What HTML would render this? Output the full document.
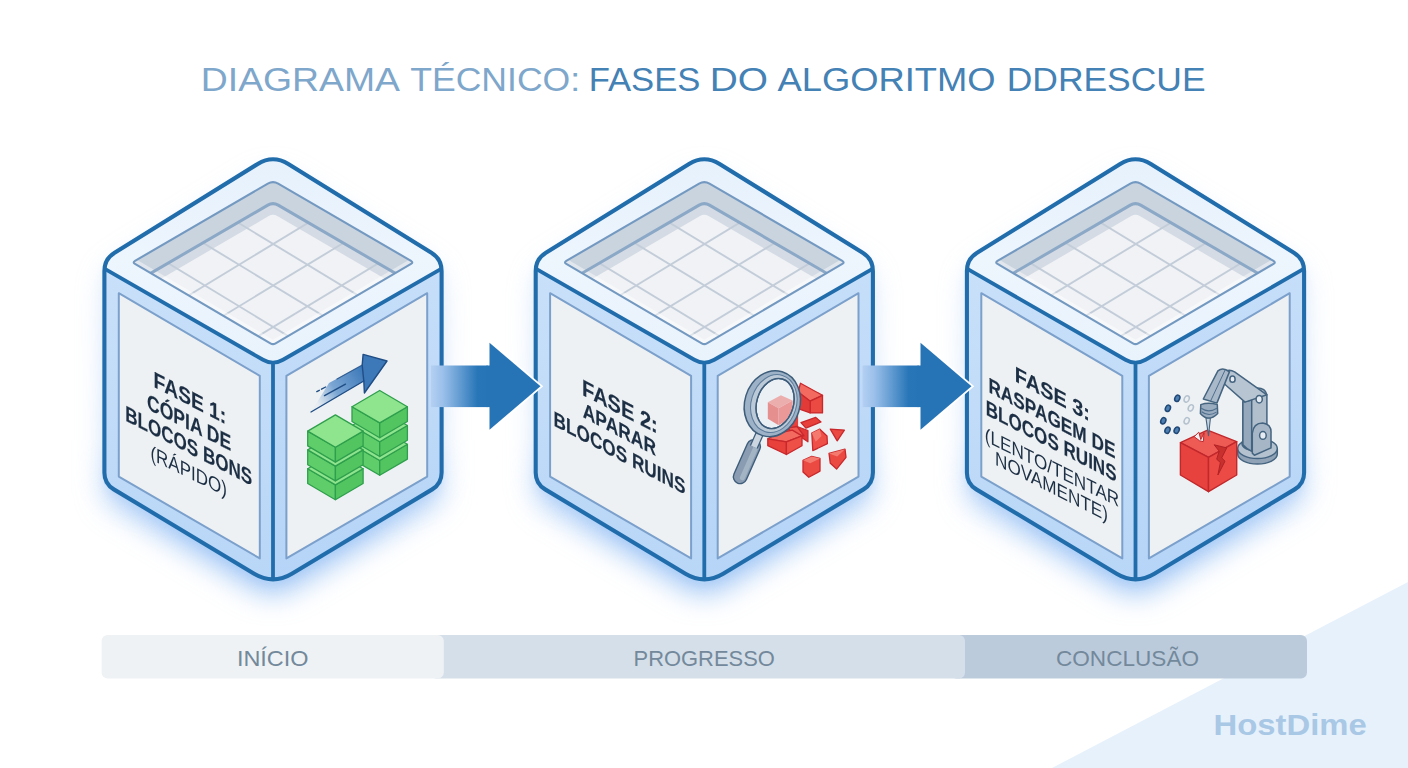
<!DOCTYPE html>
<html><head><meta charset="utf-8"><title>Fases do algoritmo ddrescue</title>
<style>html,body{margin:0;padding:0;background:#fff;}svg{display:block}</style>
</head><body>
<svg width="1408" height="768" viewBox="0 0 1408 768" font-family="'Liberation Sans', sans-serif">

<defs>
  <filter id="glow" x="-30%" y="-30%" width="160%" height="160%"><feGaussianBlur stdDeviation="14"/></filter>
  <filter id="glow2" x="-30%" y="-30%" width="160%" height="160%"><feGaussianBlur stdDeviation="5"/></filter>
  <linearGradient id="lface" x1="0" y1="0" x2="0" y2="1">
    <stop offset="0" stop-color="#c9e0f9"/><stop offset="1" stop-color="#b8d6f7"/>
  </linearGradient>
  <linearGradient id="rface" x1="0" y1="0" x2="0" y2="1">
    <stop offset="0" stop-color="#c6def9"/><stop offset="1" stop-color="#b5d4f7"/>
  </linearGradient>
  <linearGradient id="shaft" x1="0" y1="0" x2="1" y2="0">
    <stop offset="0" stop-color="#b4d0f2"/><stop offset="0.2" stop-color="#9bc0ea"/><stop offset="0.78" stop-color="#2876b8"/><stop offset="1" stop-color="#2674b6"/>
  </linearGradient>
  <linearGradient id="gmg" gradientUnits="userSpaceOnUse" x1="0" y1="140" x2="0" y2="540">
    <stop offset="0" stop-color="#fff" stop-opacity="0.3"/><stop offset="0.75" stop-color="#fff" stop-opacity="0.5"/><stop offset="0.88" stop-color="#fff" stop-opacity="0.85"/><stop offset="1" stop-color="#fff" stop-opacity="1"/>
  </linearGradient>
  <mask id="glowmask" maskUnits="userSpaceOnUse" x="-260" y="90" width="520" height="600"><rect x="-260" y="90" width="520" height="600" fill="url(#gmg)"/></mask>
  <linearGradient id="rimg" gradientUnits="userSpaceOnUse" x1="0" y1="155" x2="0" y2="365">
    <stop offset="0" stop-color="#e6f1fc"/><stop offset="0.5" stop-color="#edf5fd"/><stop offset="1" stop-color="#e9f3fc"/>
  </linearGradient>
  <clipPath id="openclip"><path d="M-5.19 183.62 Q0.00 180.60 5.19 183.62 L138.01 260.89 Q140.60 262.40 138.01 263.92 L2.59 343.38 Q0.00 344.90 -2.59 343.38 L-138.01 263.92 Q-140.60 262.40 -138.01 260.89 Z"/></clipPath>
  <clipPath id="floorclip"><path d="M-5.19 205.12 Q0.00 202.10 5.19 205.12 L138.01 282.39 Q140.60 283.90 138.01 285.42 L4.31 363.87 Q0.00 366.40 -4.31 363.87 L-138.01 285.42 Q-140.60 283.90 -138.01 282.39 Z"/></clipPath>
  <g id="cube">
    <g mask="url(#glowmask)">
    <path d="M-15.30 163.98 Q0.00 154.50 15.30 163.98 L158.40 252.68 Q168.60 259.00 168.60 271.00 L168.60 472.70 Q168.60 483.70 159.17 489.37 L18.86 573.67 Q0.00 585.00 -18.86 573.67 L-159.17 489.37 Q-168.60 483.70 -168.60 472.70 L-168.60 271.00 Q-168.60 259.00 -158.40 252.68 Z" fill="#a0c6f5" filter="url(#glow)" opacity="1" transform="translate(0,15)"/>
    <path d="M-15.30 163.98 Q0.00 154.50 15.30 163.98 L158.40 252.68 Q168.60 259.00 168.60 271.00 L168.60 472.70 Q168.60 483.70 159.17 489.37 L18.86 573.67 Q0.00 585.00 -18.86 573.67 L-159.17 489.37 Q-168.60 483.70 -168.60 472.70 L-168.60 271.00 Q-168.60 259.00 -158.40 252.68 Z" fill="#a9ccf6" filter="url(#glow2)" opacity="0.55" transform="translate(0,4)"/>
    </g>
    <path d="M-15.30 163.98 Q0.00 154.50 15.30 163.98 L158.40 252.68 Q168.60 259.00 168.60 271.00 L168.60 472.70 Q168.60 483.70 159.17 489.37 L18.86 573.67 Q0.00 585.00 -18.86 573.67 L-159.17 489.37 Q-168.60 483.70 -168.60 472.70 L-168.60 271.00 Q-168.60 259.00 -158.40 252.68 Z" fill="#c2dcf8"/>
    <path d="M-168.6 262 L0 362 L0 585 L-168.6 484 Z" fill="url(#lface)"/>
    <path d="M168.6 262 L0 362 L0 585 L168.6 484 Z" fill="url(#rface)"/>
    <path d="M-15.30 163.98 Q0.00 154.50 15.30 163.98 L160.10 253.73 Q168.60 259.00 168.60 263.85 L168.60 263.85 Q168.60 268.70 159.93 273.68 L13.88 357.53 Q0.00 365.50 -13.88 357.53 L-159.93 273.68 Q-168.60 268.70 -168.60 263.85 L-168.60 263.85 Q-168.60 259.00 -160.10 253.73 Z" fill="url(#rimg)"/>
    <!-- recess -->
    <path d="M-5.19 183.62 Q0.00 180.60 5.19 183.62 L138.01 260.89 Q140.60 262.40 138.01 263.92 L2.59 343.38 Q0.00 344.90 -2.59 343.38 L-138.01 263.92 Q-140.60 262.40 -138.01 260.89 Z" fill="#c9d4df"/>
    <g clip-path="url(#openclip)">
      <path d="M-5.19 205.12 Q0.00 202.10 5.19 205.12 L138.01 282.39 Q140.60 283.90 138.01 285.42 L4.31 363.87 Q0.00 366.40 -4.31 363.87 L-138.01 285.42 Q-140.60 283.90 -138.01 282.39 Z" fill="#d4dbe4"/>
      <path d="M-4.32 216.11 Q0.00 213.60 4.32 216.11 L138.01 293.89 Q140.60 295.40 138.01 296.92 L4.31 375.37 Q0.00 377.90 -4.31 375.37 L-138.01 296.92 Q-140.60 295.40 -138.01 293.89 Z" fill="#f0f2f5"/>
      <g clip-path="url(#floorclip)"><path d="M-68.10 202.50 L137.10 327.00 M68.70 202.50 L-136.50 327.00 M-102.30 223.25 L102.90 347.75 M102.90 223.25 L-102.30 347.75 M-136.50 244.00 L68.70 368.50 M137.10 244.00 L-68.10 368.50" stroke="#c3cdd9" stroke-width="1.9" fill="none"/></g>
      <path d="M-140.6 262.4 L0 344.9 L140.6 262.4" stroke="#ffffff" stroke-opacity="0.45" stroke-width="9" fill="none" stroke-linejoin="round"/>
      <path d="M-140.59 283.90 Q-140.60 283.90 -140.59 283.89 L-5.19 205.12 Q0.00 202.10 5.19 205.12 L140.59 283.89 Q140.60 283.90 140.59 283.90" stroke="#8ca8c7" stroke-width="3" fill="none"/>
    </g>
    <path d="M-5.19 183.62 Q0.00 180.60 5.19 183.62 L138.01 260.89 Q140.60 262.40 138.01 263.92 L2.59 343.38 Q0.00 344.90 -2.59 343.38 L-138.01 263.92 Q-140.60 262.40 -138.01 260.89 Z" fill="none" stroke="#7499c1" stroke-width="2.1"/>
    <!-- panels -->
    <path d="M-154.2 293.2 L-13.2 375.8 L-13.2 558.4 L-154.2 476.6 Z" fill="#eef1f3" stroke="#7ba0cb" stroke-width="2" stroke-linejoin="round"/>
    <path d="M154.2 293.2 L13.4 375.8 L13.4 558.4 L154.2 476.6 Z" fill="#eef1f3" stroke="#7ba0cb" stroke-width="2" stroke-linejoin="round"/>
    <!-- edges -->
    <path d="M-168.6 268.7 L-10 359.75 Q0 365.5 10 359.75 L168.6 268.7" fill="none" stroke="#216dac" stroke-width="3.8"/>
    <path d="M0 362.5 L0 580.5" fill="none" stroke="#216dac" stroke-width="3.8"/>
    <path d="M-15.30 163.98 Q0.00 154.50 15.30 163.98 L158.40 252.68 Q168.60 259.00 168.60 271.00 L168.60 472.70 Q168.60 483.70 159.17 489.37 L18.86 573.67 Q0.00 585.00 -18.86 573.67 L-159.17 489.37 Q-168.60 483.70 -168.60 472.70 L-168.60 271.00 Q-168.60 259.00 -158.40 252.68 Z" fill="none" stroke="#216dac" stroke-width="4.1" stroke-linejoin="round"/>
  </g>
</defs>

<rect width="1408" height="768" fill="#ffffff"/>
<path d="M1052 768 L1408 582 L1408 768 Z" fill="#e7f1fb"/>
<text x="200.8" y="90.6" font-size="32.6" fill="#7ea7cb" textLength="199.2" lengthAdjust="spacingAndGlyphs">DIAGRAMA</text><text x="410.2" y="90.6" font-size="32.6" fill="#7ea7cb" textLength="170.0" lengthAdjust="spacingAndGlyphs">TÉCNICO:</text><text x="588.7" y="90.6" font-size="32.6" fill="#4481b4" textLength="111.7" lengthAdjust="spacingAndGlyphs">FASES</text><text x="709.8" y="90.6" font-size="32.6" fill="#4481b4" textLength="58.3" lengthAdjust="spacingAndGlyphs">DO</text><text x="777.6" y="90.6" font-size="32.6" fill="#4481b4" textLength="218.0" lengthAdjust="spacingAndGlyphs">ALGORITMO</text><text x="1006.7" y="90.6" font-size="32.6" fill="#4481b4" textLength="198.9" lengthAdjust="spacingAndGlyphs">DDRESCUE</text>
<use href="#cube" x="273.0"/>
<use href="#cube" x="704.3"/>
<use href="#cube" x="1135.5"/>
<rect x="431" y="365.5" width="59.5" height="41.6" fill="url(#shaft)"/><path d="M489.5 342.8 L540.5 386.3 L489.5 429.8 Z" fill="#2674b6" stroke="#ffffff" stroke-width="3.6" stroke-linejoin="miter" paint-order="stroke"/><rect x="486.5" y="365.5" width="6" height="41.6" fill="#2674b6"/>
<rect x="862.5" y="365.5" width="59.0" height="41.6" fill="url(#shaft)"/><path d="M920.5 342.8 L971.5 386.3 L920.5 429.8 Z" fill="#2674b6" stroke="#ffffff" stroke-width="3.6" stroke-linejoin="miter" paint-order="stroke"/><rect x="917.5" y="365.5" width="6" height="41.6" fill="#2674b6"/>
<g opacity="0.999"><text transform="matrix(0.866 0.4497 0 1 153.6 386.8)" x="0" y="0" font-size="22.4" font-weight="bold" fill="#1c2f45" stroke="#1c2f45" stroke-width="0.15" textLength="83.8" lengthAdjust="spacingAndGlyphs">FASE 1:</text>
<text transform="matrix(0.866 0.4351 0 1 147.0 408.8)" x="0" y="0" font-size="22.1" font-weight="bold" fill="#1c2f45" stroke="#1c2f45" stroke-width="0.15" textLength="97.2" lengthAdjust="spacingAndGlyphs">CÓPIA DE</text>
<text transform="matrix(0.866 0.4453 0 1 125.2 420.5)" x="0" y="0" font-size="22.1" font-weight="bold" fill="#1c2f45" stroke="#1c2f45" stroke-width="0.15" textLength="146.7" lengthAdjust="spacingAndGlyphs">BLOCOS BONS</text>
<text transform="matrix(0.866 0.4273 0 1 150.4 459.2)" x="0" y="0" font-size="20.2" font-weight="normal" fill="#1c2f45"  textLength="88.2" lengthAdjust="spacingAndGlyphs">(RÁPIDO)</text>
<text transform="matrix(0.866 0.4490 0 1 582.0 394.7)" x="0" y="0" font-size="22.9" font-weight="bold" fill="#1c2f45" stroke="#1c2f45" stroke-width="0.15" textLength="87.5" lengthAdjust="spacingAndGlyphs">FASE 2:</text>
<text transform="matrix(0.866 0.4649 0 1 582.8 417.0)" x="0" y="0" font-size="21.2" font-weight="bold" fill="#1c2f45" stroke="#1c2f45" stroke-width="0.15" textLength="84.5" lengthAdjust="spacingAndGlyphs">APARAR</text>
<text transform="matrix(0.866 0.4540 0 1 553.6 425.6)" x="0" y="0" font-size="21.2" font-weight="bold" fill="#1c2f45" stroke="#1c2f45" stroke-width="0.15" textLength="152.2" lengthAdjust="spacingAndGlyphs">BLOCOS RUINS</text>
<text transform="matrix(0.866 0.4676 0 1 1014.8 381.0)" x="0" y="0" font-size="21.8" font-weight="bold" fill="#1c2f45" stroke="#1c2f45" stroke-width="0.15" textLength="86.6" lengthAdjust="spacingAndGlyphs">FASE 3:</text>
<text transform="matrix(0.866 0.4548 0 1 988.4 392.1)" x="0" y="0" font-size="21.2" font-weight="bold" fill="#1c2f45" stroke="#1c2f45" stroke-width="0.15" textLength="146.7" lengthAdjust="spacingAndGlyphs">RASPAGEM DE</text>
<text transform="matrix(0.866 0.4482 0 1 985.8 414.4)" x="0" y="0" font-size="21.6" font-weight="bold" fill="#1c2f45" stroke="#1c2f45" stroke-width="0.15" textLength="151.0" lengthAdjust="spacingAndGlyphs">BLOCOS RUINS</text>
<text transform="matrix(0.866 0.4266 0 1 984.8 441.0)" x="0" y="0" font-size="19.4" font-weight="normal" fill="#1c2f45"  textLength="155.2" lengthAdjust="spacingAndGlyphs">(LENTO/TENTAR</text>
<text transform="matrix(0.866 0.4376 0 1 995.0 464.6)" x="0" y="0" font-size="19.4" font-weight="normal" fill="#1c2f45"  textLength="130.5" lengthAdjust="spacingAndGlyphs">NOVAMENTE)</text></g>
<g id="icon1"><defs><linearGradient id="i1g" gradientUnits="userSpaceOnUse" x1="318" y1="405" x2="366" y2="375">
      <stop offset="0" stop-color="#6f9fd2" stop-opacity="0.05"/><stop offset="0.4" stop-color="#5d92cb" stop-opacity="0.8"/><stop offset="1" stop-color="#3d79b9"/></linearGradient></defs><path d="M311 412 L363.8 381 L362.2 365 L329 383 Z" fill="url(#i1g)"/><path d="M363.1 354.4 L387 361 L364.4 393 L363.8 381 L362.2 365 Z" fill="#3d79b9" stroke="#1f4d85" stroke-width="1.4" stroke-linejoin="round"/><path d="M311 412 L363.8 381" stroke="#1f4d85" stroke-width="1.4" fill="none" stroke-linecap="round"/><path d="M324.5 395.6 L345.5 384.2" stroke="#1f4d85" stroke-width="1.4" fill="none" stroke-linecap="round"/><path d="M316.8 391.6 L319.3 390.3 M321.5 389.2 L325.6 387" stroke="#1f4d85" stroke-width="1.4" fill="none" stroke-linecap="round"/><path d="M337 379 L362.2 365" stroke="#1f4d85" stroke-width="1.2" fill="none" stroke-linecap="round" opacity="0.8"/><polygon points="352.0,444.3 379.7,460.5 379.7,475.3 352.0,459.1" fill="#5fce6a" stroke="#2e9f4c" stroke-width="1.3" stroke-linejoin="round"/><polygon points="407.4,444.3 379.7,460.5 379.7,475.3 407.4,459.1" fill="#52c460" stroke="#2e9f4c" stroke-width="1.3" stroke-linejoin="round"/><polygon points="379.7,428.1 407.4,444.3 379.7,460.5 352.0,444.3" fill="#8fe48e" stroke="#2e9f4c" stroke-width="1.3" stroke-linejoin="round"/><polygon points="352.0,425.5 379.7,441.7 379.7,456.5 352.0,440.3" fill="#5fce6a" stroke="#2e9f4c" stroke-width="1.3" stroke-linejoin="round"/><polygon points="407.4,425.5 379.7,441.7 379.7,456.5 407.4,440.3" fill="#52c460" stroke="#2e9f4c" stroke-width="1.3" stroke-linejoin="round"/><polygon points="379.7,409.3 407.4,425.5 379.7,441.7 352.0,425.5" fill="#8fe48e" stroke="#2e9f4c" stroke-width="1.3" stroke-linejoin="round"/><polygon points="352.0,406.7 379.7,422.9 379.7,437.7 352.0,421.5" fill="#5fce6a" stroke="#2e9f4c" stroke-width="1.3" stroke-linejoin="round"/><polygon points="407.4,406.7 379.7,422.9 379.7,437.7 407.4,421.5" fill="#52c460" stroke="#2e9f4c" stroke-width="1.3" stroke-linejoin="round"/><polygon points="379.7,390.5 407.4,406.7 379.7,422.9 352.0,406.7" fill="#8fe48e" stroke="#2e9f4c" stroke-width="1.3" stroke-linejoin="round"/><polygon points="307.7,468.7 335.4,484.9 335.4,499.7 307.7,483.5" fill="#5fce6a" stroke="#2e9f4c" stroke-width="1.3" stroke-linejoin="round"/><polygon points="363.1,468.7 335.4,484.9 335.4,499.7 363.1,483.5" fill="#52c460" stroke="#2e9f4c" stroke-width="1.3" stroke-linejoin="round"/><polygon points="335.4,452.5 363.1,468.7 335.4,484.9 307.7,468.7" fill="#8fe48e" stroke="#2e9f4c" stroke-width="1.3" stroke-linejoin="round"/><polygon points="307.7,449.9 335.4,466.1 335.4,480.9 307.7,464.7" fill="#5fce6a" stroke="#2e9f4c" stroke-width="1.3" stroke-linejoin="round"/><polygon points="363.1,449.9 335.4,466.1 335.4,480.9 363.1,464.7" fill="#52c460" stroke="#2e9f4c" stroke-width="1.3" stroke-linejoin="round"/><polygon points="335.4,433.7 363.1,449.9 335.4,466.1 307.7,449.9" fill="#8fe48e" stroke="#2e9f4c" stroke-width="1.3" stroke-linejoin="round"/><polygon points="307.7,431.1 335.4,447.3 335.4,462.1 307.7,445.9" fill="#5fce6a" stroke="#2e9f4c" stroke-width="1.3" stroke-linejoin="round"/><polygon points="363.1,431.1 335.4,447.3 335.4,462.1 363.1,445.9" fill="#52c460" stroke="#2e9f4c" stroke-width="1.3" stroke-linejoin="round"/><polygon points="335.4,414.9 363.1,431.1 335.4,447.3 307.7,431.1" fill="#8fe48e" stroke="#2e9f4c" stroke-width="1.3" stroke-linejoin="round"/></g><g id="icon2"><polygon points="798.1,392.0 800.5,383.2 822.5,395.3 810.2,401.2" fill="#f26a60" stroke="#c8282c" stroke-width="1.3" stroke-linejoin="round"/><polygon points="810.2,401.2 822.5,395.3 822.5,412.9 810.2,412.9" fill="#ea4a42" stroke="#c8282c" stroke-width="1.3" stroke-linejoin="round"/><polygon points="798.1,392.0 810.2,401.2 810.2,412.9 798.1,408.6" fill="#e23a36" stroke="#c8282c" stroke-width="1.3" stroke-linejoin="round"/><polygon points="767.8,402.3 780.9,395.3 792.6,400.4 778.6,408.2" fill="#f08078" stroke="none"/><polygon points="767.8,402.3 778.6,408.2 778.6,425.2 767.8,418.7" fill="#e64a44" stroke="none"/><polygon points="778.6,408.2 792.6,400.4 792.6,417.4 778.6,425.2" fill="#ec5a54" stroke="none"/><polygon points="786.4,420.3 798.1,414.4 798.1,428.1 786.4,432.0" fill="#e8403a" stroke="none"/><polygon points="801.0,422.6 815.7,417.4 821.0,421.9 805.9,428.1" fill="#e8403a" stroke="#c8282c" stroke-width="1.3" stroke-linejoin="round"/><polygon points="797.1,426.5 807.9,430.5 807.9,441.8 797.1,434.4" fill="#e23a36" stroke="#c8282c" stroke-width="1.3" stroke-linejoin="round"/><polygon points="787.4,428.1 797.1,426.5 804.0,435.9 794.2,434.0" fill="#ef5a52" stroke="#c8282c" stroke-width="1.3" stroke-linejoin="round"/><polygon points="767.8,438.8 778.6,433.0 792.3,430.1 802.0,435.9 786.4,441.8" fill="#f26a60" stroke="#c8282c" stroke-width="1.3" stroke-linejoin="round"/><polygon points="767.8,438.8 786.4,441.8 786.4,454.5 767.8,445.7" fill="#e8403a" stroke="#c8282c" stroke-width="1.3" stroke-linejoin="round"/><polygon points="786.4,441.8 802.0,435.9 802.0,445.7 786.4,454.5" fill="#ee5048" stroke="#c8282c" stroke-width="1.3" stroke-linejoin="round"/><polygon points="811.8,433.0 819.6,429.1 827.0,435.9 827.4,443.7 812.8,450.6" fill="#ee5048" stroke="#c8282c" stroke-width="1.3" stroke-linejoin="round"/><polygon points="811.8,433.0 819.6,429.1 821.5,435.9 815.7,441.8" fill="#f47a70" stroke="none"/><polygon points="830.3,429.1 844.4,430.1 837.2,440.8" fill="#ea4a42" stroke="#c8282c" stroke-width="1.3" stroke-linejoin="round"/><polygon points="829.0,453.5 845.0,449.2 846.0,457.4 836.6,469.1 830.3,463.3" fill="#ea4a42" stroke="#c8282c" stroke-width="1.3" stroke-linejoin="round"/><polygon points="829.0,453.5 845.0,449.2 837.2,456.4" fill="#f47a70" stroke="none"/><polygon points="803.0,460.3 811.8,456.4 820.0,458.4 820.0,471.1 808.8,477.3 803.0,472.0" fill="#ea4a42" stroke="#c8282c" stroke-width="1.3" stroke-linejoin="round"/><polygon points="803.0,460.3 811.8,456.4 820.0,458.4 810.2,463.3" fill="#f47a70" stroke="none"/><path d="M753.6 446.5 L740.2 476.8" stroke="#3d5d7b" stroke-width="15" stroke-linecap="round" fill="none"/><path d="M753.6 446.5 L740.2 476.8" stroke="#8a9cb1" stroke-width="12.2" stroke-linecap="round" fill="none"/><path d="M755.8 447.5 L742.4 477.8" stroke="#a9bacb" stroke-width="5" stroke-linecap="round" fill="none" opacity="0.8"/><path d="M761.5 429.5 L753.8 447.0" stroke="#3d5d7b" stroke-width="8.6" fill="none"/><path d="M761.5 429.5 L753.8 447.0" stroke="#cbd6e0" stroke-width="6" fill="none"/><g transform="rotate(17 772.3 403.7)"><path d="M756.53 402.70 a18.4 25.6 0 1 0 36.8 0 a18.4 25.6 0 1 0 -36.8 0 Z" fill="#e6eff8" fill-opacity="0.42"/><path d="M744.73 403.70 a27.6 33.4 0 1 0 55.2 0 a27.6 33.4 0 1 0 -55.2 0 Z M756.53 402.70 a18.4 25.6 0 1 0 36.8 0 a18.4 25.6 0 1 0 -36.8 0 Z" fill="#9db2c7" fill-rule="evenodd" stroke="#3d5d7b" stroke-width="1.5"/><path d="M751.13 403.10 a22.6 29.4 0 1 0 45.2 0 a22.6 29.4 0 1 0 -45.2 0 Z M756.53 402.70 a18.4 25.6 0 1 0 36.8 0 a18.4 25.6 0 1 0 -36.8 0 Z" fill="#bccad8" fill-rule="evenodd" stroke="#5d7c9b" stroke-width="1"/><path d="M756.53 402.70 a18.4 25.6 0 1 0 36.8 0 a18.4 25.6 0 1 0 -36.8 0 Z" fill="none" stroke="#3d5d7b" stroke-width="1.4"/></g></g><g id="icon3"><path d="M1237.7 448.5 L1237.7 454.0 A19.8 10 0 0 0 1277.3 454.0 L1277.3 448.5 Z" fill="#8fa2b6" stroke="#446480" stroke-width="1.5" stroke-linejoin="round"/><ellipse cx="1257.5" cy="448.5" rx="19.8" ry="10" fill="#b4c2d0" stroke="#446480" stroke-width="1.5" stroke-linejoin="round"/><ellipse cx="1256.5" cy="443.5" rx="14.5" ry="7.6" fill="#9fb0c2" stroke="#446480" stroke-width="1.5" stroke-linejoin="round"/><path d="M1242.9,402.1 L1242.9,444.8 Q1253.3,454.2 1266.9,447.9 L1266.9,394.8 Q1264.8,386.5 1253.3,388.5 Q1242.9,391.7 1242.9,402.1 Z" fill="#b1bfcd" stroke="#446480" stroke-width="1.5" stroke-linejoin="round"/><path d="M1242.9,402.1 L1242.9,444.8 Q1247.1,449.6 1251.7,451.2 L1251.7,400.0 Z" fill="#95a8bc" stroke="#446480" stroke-width="1.5" stroke-linejoin="round"/><path d="M1252.3,433.3 Q1253.3,422.9 1262.7,422.9 Q1271.7,424.0 1271.0,433.3 L1271.0,447.9 L1254.4,455.2 L1252.3,453.1 Z" fill="#a6b6c6" stroke="#446480" stroke-width="1.5" stroke-linejoin="round"/><ellipse cx="1262.9" cy="435.4" rx="3.3" ry="3.9" fill="#e6ecf2" stroke="#446480" stroke-width="1.5" stroke-linejoin="round"/><path d="M1266.9,394.8 L1234.6,371.9 Q1227.3,367.7 1222.1,375.0 Q1220.0,381.2 1227.3,386.5 L1245.0,402.1 Z" fill="#b7c4d1" stroke="#446480" stroke-width="1.5" stroke-linejoin="round"/><ellipse cx="1259.2" cy="399.2" rx="3.1" ry="3.7" fill="#e6ecf2" stroke="#446480" stroke-width="1.5" stroke-linejoin="round"/><ellipse cx="1232.5" cy="379.2" rx="2.6" ry="3.1" fill="#e6ecf2" stroke="#446480" stroke-width="1.5" stroke-linejoin="round"/><path d="M1217.9,370.8 Q1223.1,366.7 1229.4,371.9 L1216.9,403.1 L1203.3,399.0 Z" fill="#a9b9c9" stroke="#446480" stroke-width="1.5" stroke-linejoin="round"/><path d="M1225.2,369.8 L1210.6,401.0" stroke="#4f6f8d" stroke-width="1" fill="none"/><path d="M1200.8,404.6 Q1208.5,402.1 1217.3,404.6 L1217.7,413.5 Q1208.5,422.9 1200.4,413.5 Z" fill="#9aacbf" stroke="#446480" stroke-width="1.5" stroke-linejoin="round"/><path d="M1201.2,408.3 Q1208.5,413.5 1216.9,408.3 M1201.7,411.7 Q1208.5,417.1 1216.5,412.1" fill="none" stroke="#4f6f8d" stroke-width="1.1"/><polygon points="1180.4,442.7 1207.5,430.2 1236.7,441.7 1208.5,457.3" fill="#ee5a54" stroke="#c0282c" stroke-width="1.4" stroke-linejoin="round"/><polygon points="1180.4,442.7 1208.5,457.3 1208.5,491.7 1180.4,475.0" fill="#e8423e" stroke="#c0282c" stroke-width="1.4" stroke-linejoin="round"/><polygon points="1208.5,457.3 1236.7,441.7 1236.7,475.0 1208.5,491.7" fill="#ec4a44" stroke="#c0282c" stroke-width="1.4" stroke-linejoin="round"/><polygon points="1194.2,436.7 1198.8,432.1 1200.8,439.6 1204.0,432.9 1203.3,441.7 1199.6,440.8" fill="#eef1f3" stroke="#c0282c" stroke-width="1" stroke-linejoin="round"/><polygon points="1214.2,444.8 1226.7,447.9 1221.7,457.9 1225.0,461.2 1217.9,475.0 1220.4,462.5 1216.7,459.2 1219.2,451.2" fill="#c8302e" stroke="#b02226" stroke-width="1" stroke-linejoin="round"/><path d="M1206.0,418.3 L1210.4,418.3 L1208.5,435.8 Z" fill="#c7d2dd" stroke="#446480" stroke-width="1.1" stroke-linejoin="round"/><ellipse cx="1177.3" cy="398.3" rx="2.4" ry="3.3" transform="rotate(25 1177.3 398.3)" fill="#4d7fb3" stroke="#1f4876" stroke-width="1.5"/><ellipse cx="1167.9" cy="408.3" rx="2.4" ry="3.3" transform="rotate(25 1167.9 408.3)" fill="#4d7fb3" stroke="#1f4876" stroke-width="1.5"/><ellipse cx="1163.3" cy="420.8" rx="2.4" ry="3.3" transform="rotate(25 1163.3 420.8)" fill="#4d7fb3" stroke="#1f4876" stroke-width="1.5"/><ellipse cx="1167.5" cy="430.2" rx="2.4" ry="3.3" transform="rotate(25 1167.5 430.2)" fill="#4d7fb3" stroke="#1f4876" stroke-width="1.5"/><ellipse cx="1176.7" cy="430.2" rx="2.4" ry="3.3" transform="rotate(25 1176.7 430.2)" fill="#4d7fb3" stroke="#1f4876" stroke-width="1.5"/><ellipse cx="1186.7" cy="399.0" rx="2.4" ry="3.3" transform="rotate(25 1186.7 399.0)" fill="#eef1f4" stroke="#b4c2cf" stroke-width="1.5"/><ellipse cx="1190.8" cy="407.9" rx="2.4" ry="3.3" transform="rotate(25 1190.8 407.9)" fill="#eef1f4" stroke="#b4c2cf" stroke-width="1.5"/><ellipse cx="1186.7" cy="420.8" rx="2.4" ry="3.3" transform="rotate(25 1186.7 420.8)" fill="#eef1f4" stroke="#b4c2cf" stroke-width="1.5"/></g>
<rect x="950" y="635" width="357" height="43.5" rx="6" fill="#bccbdc"/><rect x="430" y="635" width="535" height="43.5" rx="6" fill="#d5dfe9"/><rect x="101.6" y="635" width="342.2" height="43.5" rx="6" fill="#eef2f4"/><text x="236.9" y="665.7" font-size="21.4" fill="#73899b" textLength="71.7" lengthAdjust="spacingAndGlyphs">INÍCIO</text><text x="633.6" y="665.7" font-size="21.4" fill="#73899b" textLength="141.2" lengthAdjust="spacingAndGlyphs">PROGRESSO</text><text x="1056.0" y="665.7" font-size="21.4" fill="#73899b" textLength="143.0" lengthAdjust="spacingAndGlyphs">CONCLUSÃO</text>
<text x="1213.6" y="735.2" font-size="28.8" font-weight="bold" fill="#a9c8e6" textLength="153.2" lengthAdjust="spacingAndGlyphs">HostDime</text>
</svg>
</body></html>
